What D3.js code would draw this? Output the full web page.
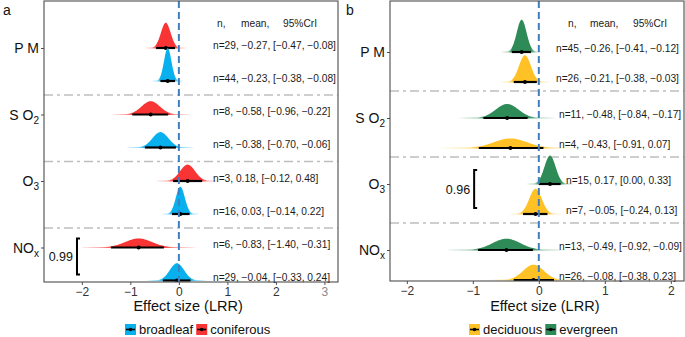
<!DOCTYPE html>
<html>
<head>
<meta charset="utf-8">
<script src="https://d3js.org/d3.v7.min.js"></script>
<style>
body { margin: 0; background: #fff; }
text { font-family: "Liberation Sans", Arial, sans-serif; }
</style>
</head>
<body>
<script>
//--------------------Data----------------//
var pollutants = ["PM", "SO2", "O3", "NOx"];

// panel a, upper row = coniferous, lower row = broadleaf
var coniferousN = [29, 8, 3, 6];
var coniferousMean = [-0.27, -0.58, 0.18, -0.83];
var coniferousLo = [-0.47, -0.96, -0.12, -1.40];
var coniferousHi = [-0.08, -0.22, 0.48, -0.31];

var broadleafN = [44, 8, 16, 29];
var broadleafMean = [-0.23, -0.38, 0.03, -0.04];
var broadleafLo = [-0.38, -0.70, -0.14, -0.33];
var broadleafHi = [-0.08, -0.06, 0.22, 0.24];

// panel b, upper row = evergreen, lower row = deciduous
var evergreenN = [45, 11, 15, 13];
var evergreenMean = [-0.26, -0.48, 0.17, -0.49];
var evergreenLo = [-0.41, -0.84, 0.00, -0.92];
var evergreenHi = [-0.12, -0.17, 0.33, -0.09];

var deciduousN = [26, 4, 7, 26];
var deciduousMean = [-0.21, -0.43, -0.05, -0.08];
var deciduousLo = [-0.38, -0.91, -0.24, -0.38];
var deciduousHi = [-0.03, 0.07, 0.13, 0.23];

var ticksA = [-2, -1, 0, 1, 2, 3];
var ticksB = [-2, -1, 0, 1, 2];
var headerWords = ["n,", "mean,", "95%CrI"];
var probA = "0.99";   // NOx
var probB = "0.96";   // O3

//Build series objects
function makeSeries(name, color, n, mean, lo, hi) {
    return {
        name: name, color: color,
        values: pollutants.map(function(p, i) {
            return {cat: i, n: n[i], mean: mean[i], lo: lo[i], hi: hi[i]};
        })
    };
}

var panels = [
    {
        id: "a", x0: 44, x1: 338, y0: 1, y1: 282, domain: [-2.78, 3.28], ticks: ticksA,
        yTop: 48, catStep: 66.5, rowStep: 33, sepOff: 47, k: 6.3,
        upper: makeSeries("coniferous", "#F83434", coniferousN, coniferousMean, coniferousLo, coniferousHi),
        lower: makeSeries("broadleaf", "#08B0EE", broadleafN, broadleafMean, broadleafLo, broadleafHi),
        textX: [213, 213, 213, 213], textDy: -3, headerX: [217, 241, 283],
        bracket: {cat: 3, x: -2.1, label: probA, top: -9, bot: -6},
        legendX: 125, labelX: 3
    },
    {
        id: "b", x0: 390, x1: 684, y0: 1, y1: 281, domain: [-2.255, 2.2], ticks: ticksB,
        yTop: 52, catStep: 66, rowStep: 30, sepOff: 39, k: 6.0,
        upper: makeSeries("evergreen", "#2E8B57", evergreenN, evergreenMean, evergreenLo, evergreenHi),
        lower: makeSeries("deciduous", "#FFC125", deciduousN, deciduousMean, deciduousLo, deciduousHi),
        textX: [556, 559, 566, 559], textDy: -4, headerX: [568, 590, 633],
        bracket: {cat: 2, x: -0.98, label: probB, top: -14, bot: -6},
        legendX: 469, labelX: 346
    }
];

var fmt = d3.format(".2f");
var svg = d3.select("body").append("svg")
    .attr("width", 685)
    .attr("height", 337);

var defs = svg.append("defs");

function normPdf(x, m, s) {
    var z = (x - m) / s;
    return Math.exp(-0.5 * z * z) / (s * Math.sqrt(2 * Math.PI));
}

panels.forEach(function(P) {
    var xScale = d3.scaleLinear().domain(P.domain).range([P.x0, P.x1]);
    // category index -> pixel of upper row baseline
    var yScale = d3.scaleLinear().domain([0, 3]).range([P.yTop, P.yTop + 3 * P.catStep]);
    var rowY = function(cat, sub) { return yScale(cat) + sub * P.rowStep; };

    var g = svg.append("g").attr("id", "plot-" + P.id);

    defs.append("clipPath").attr("id", "clip-" + P.id)
        .append("rect")
        .attr("x", P.x0).attr("y", P.y0)
        .attr("width", P.x1 - P.x0).attr("height", P.y1 - P.y0);

    //Separator lines between pollutants
    g.append("g").selectAll("line")
        .data([0, 1, 2]).enter()
        .append("line")
        .attr("x1", P.x0).attr("x2", P.x1)
        .attr("y1", function(d) { return yScale(d) + P.sepOff; })
        .attr("y2", function(d) { return yScale(d) + P.sepOff; })
        .style("stroke", "#BEBEBE")
        .style("stroke-width", 1.6)
        .style("stroke-dasharray", "9,4,3,4");

    var ridges = g.append("g").attr("clip-path", "url(#clip-" + P.id + ")");

    //Ridges + intervals, top rows first
    var rows = [];
    pollutants.forEach(function(p, i) {
        rows.push({s: P.upper, d: P.upper.values[i], sub: 0});
        rows.push({s: P.lower, d: P.lower.values[i], sub: 1});
    });

    rows.forEach(function(r, j) {
        var d = r.d;
        var sd = (d.hi - d.lo) / 3.92;
        var base = rowY(d.cat, r.sub);
        var pts = d3.range(0, 121).map(function(t) {
            return d.mean - 4.2 * sd + t * (8.4 * sd / 120);
        });
        var gid = "grad-" + P.id + "-" + j;
        var gr = defs.append("linearGradient")
            .attr("id", gid)
            .attr("gradientUnits", "userSpaceOnUse")
            .attr("x1", xScale(d.mean - 4.2 * sd)).attr("x2", xScale(d.mean + 4.2 * sd))
            .attr("y1", 0).attr("y2", 0);
        [[0, 0.08], [0.17, 0.45], [0.28, 1], [0.72, 1], [0.83, 0.45], [1, 0.08]].forEach(function(s) {
            gr.append("stop").attr("offset", s[0])
                .attr("stop-color", r.s.color).attr("stop-opacity", s[1]);
        });
        var area = d3.area()
            .x(function(v) { return xScale(v); })
            .y0(base + 0.6)
            .y1(function(v) { return base - Math.max(P.k * normPdf(v, d.mean, sd), 0.6); })
            .curve(d3.curveBasis);
        ridges.append("path")
            .attr("d", area(pts))
            .style("fill", "url(#" + gid + ")");
        // 95% CrI bar and mean point
        ridges.append("line")
            .attr("x1", xScale(d.lo)).attr("x2", xScale(d.hi))
            .attr("y1", base).attr("y2", base)
            .style("stroke", "#000").style("stroke-width", 2.2);
        ridges.append("circle")
            .attr("cx", xScale(d.mean)).attr("cy", base).attr("r", 2)
            .style("fill", "#000");
        // n, mean, CrI text
        g.append("text")
            .attr("x", P.textX[d.cat])
            .attr("y", base + P.textDy)
            .attr("dy", "0.35em")
            .style("font-size", "10.2px")
            .style("fill", "#1a1a1a")
            .text("n=" + d.n + ", " + fmt(d.mean) + ", [" + fmt(d.lo) + ", " + fmt(d.hi) + "]");
    });

    //Dashed zero line
    g.append("line")
        .attr("x1", xScale(0)).attr("x2", xScale(0))
        .attr("y1", P.y0).attr("y2", P.y1)
        .style("stroke", "#3F7FBF")
        .style("stroke-width", 2)
        .style("stroke-dasharray", "7,4");

    //Header
    g.append("g").selectAll("text")
        .data(headerWords).enter()
        .append("text")
        .attr("x", function(d, i) { return P.headerX[i]; })
        .attr("y", 23).attr("dy", "0.35em")
        .style("font-size", "10.2px")
        .style("fill", "#1a1a1a")
        .text(function(d) { return d; });

    //Panel border
    g.append("rect")
        .attr("x", P.x0).attr("y", P.y0)
        .attr("width", P.x1 - P.x0).attr("height", P.y1 - P.y0)
        .style("fill", "none")
        .style("stroke", "#4D4D4D")
        .style("stroke-width", 1.1);

    //X axis
    var xAxis = d3.axisBottom(xScale)
        .tickValues(P.ticks)
        .tickSize(3)
        .tickSizeOuter(0)
        .tickFormat(d3.format("d"));
    var xg = g.append("g")
        .attr("transform", "translate(0," + P.y1 + ")")
        .call(xAxis);
    xg.select(".domain").remove();
    xg.selectAll(".tick line").style("stroke", "#4D4D4D");
    xg.selectAll(".tick text")
        .attr("y", 5)
        .style("font-size", "12px")
        .style("font-family", "Liberation Sans, Arial, sans-serif")
        .style("fill", function(d) { return d === 3 ? "#8a8a8a" : "#333"; });

    g.append("text")
        .attr("x", (xScale(-2) + xScale(P.ticks[P.ticks.length - 1])) / 2 + (P.id === "a" ? -15 : 6))
        .attr("y", 311)
        .attr("text-anchor", "middle")
        .style("font-size", "14.5px")
        .style("fill", "#111")
        .text("Effect size (LRR)");

    //Y axis
    var yAxis = d3.axisLeft(yScale)
        .tickValues([0, 1, 2, 3])
        .tickSize(3)
        .tickSizeOuter(0)
        .tickFormat("");
    var yg = g.append("g")
        .attr("transform", "translate(" + P.x0 + ",0)")
        .call(yAxis);
    yg.select(".domain").remove();
    yg.selectAll(".tick line").style("stroke", "#4D4D4D");

    var ylab = g.append("g").selectAll("text")
        .data(pollutants).enter()
        .append("text")
        .attr("x", P.x0 - 5)
        .attr("y", function(d, i) { return yScale(i); })
        .attr("dy", "0.36em")
        .attr("text-anchor", "end")
        .style("font-size", "14px")
        .style("fill", "#111");
    ylab.each(function(d) {
        var t = d3.select(this);
        if (d === "PM") { t.text("P M"); return; }
        var main = d === "SO2" ? "S O" : "O";
        if (d === "NOx") main = "NO";
        var sub = d.slice(-1);
        t.append("tspan").text(main);
        t.append("tspan").attr("dy", 4).style("font-size", "10px").text(sub);
    });

    //Probability bracket
    var b = P.bracket;
    var bx = xScale(b.x);
    var bTop = rowY(b.cat, 0) + b.top;
    var bBot = rowY(b.cat, 1) + b.bot;
    g.append("path")
        .attr("d", "M" + (bx + 3) + "," + bTop + "H" + bx + "V" + bBot + "H" + (bx + 3))
        .style("fill", "none")
        .style("stroke", "#000")
        .style("stroke-width", 2);
    g.append("text")
        .attr("x", bx - 4)
        .attr("y", (bTop + bBot) / 2)
        .attr("dy", "0.36em")
        .attr("text-anchor", "end")
        .style("font-size", "12.5px")
        .style("fill", "#111")
        .text(b.label);

    //Panel letter
    g.append("text")
        .attr("x", P.labelX).attr("y", 10)
        .attr("dy", "0.36em")
        .style("font-size", "14px")
        .style("fill", "#111")
        .text(P.id);

    //Legend
    var lx = P.legendX;
    [P.lower, P.upper].forEach(function(s) {
        var lg = g.append("g").attr("transform", "translate(" + lx + ",324)");
        lg.append("rect").attr("width", 11).attr("height", 11).style("fill", s.color);
        lg.append("line").attr("x1", 1).attr("x2", 10).attr("y1", 5.5).attr("y2", 5.5)
            .style("stroke", "#000").style("stroke-width", 1.6);
        lg.append("circle").attr("cx", 5.5).attr("cy", 5.5).attr("r", 1.8).style("fill", "#000");
        var t = lg.append("text")
            .attr("x", 14).attr("y", 5.5).attr("dy", "0.36em")
            .style("font-size", "13px")
            .style("fill", "#111")
            .text(s.name);
        lx += 14 + t.node().getComputedTextLength() + 3;
    });
});
</script>
</body>
</html>
